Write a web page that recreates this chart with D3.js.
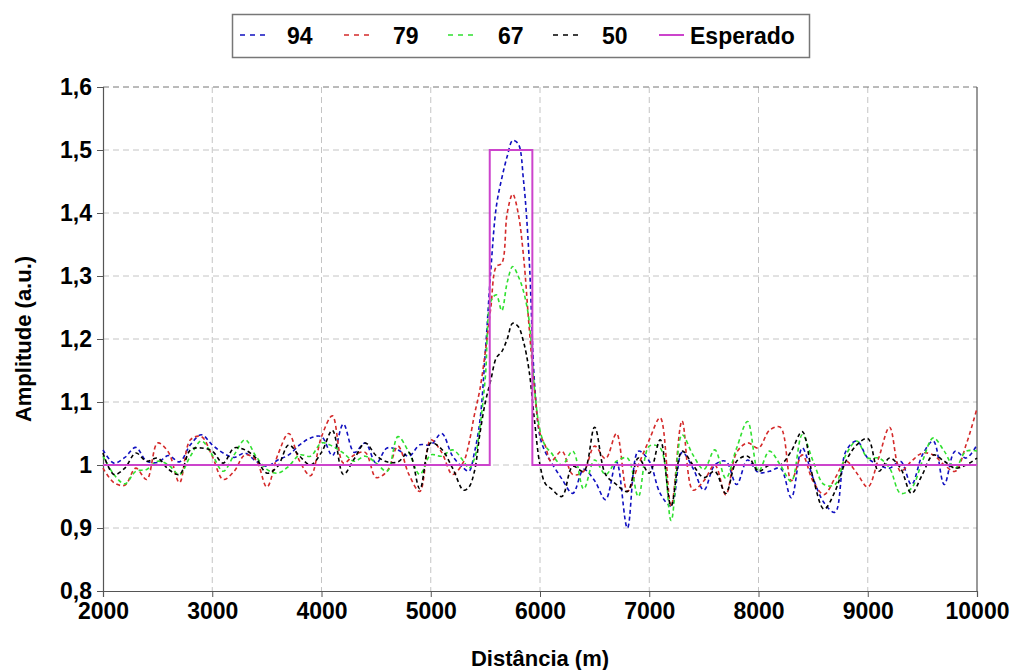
<!DOCTYPE html>
<html>
<head>
<meta charset="utf-8">
<script src="https://cdn.jsdelivr.net/npm/d3@7"></script>
<style>
  body { margin: 0; background: #ffffff; }
  text { font-family: "Liberation Sans", Arial, sans-serif; font-weight: bold; }
</style>
</head>
<body>
<svg id="chart" width="1011" height="670"></svg>
<script>

// distance samples (m), finer around the peak
const dist = [2000,2100,2200,2300,2400,2500,2600,2700,2800,2900,
              3000,3100,3200,3300,3400,3500,3600,3700,3800,3900,
              4000,4100,4200,4300,4400,4500,4600,4700,4800,4900,
              5000,5100,5200,5300,
              5350,5400,5450,5500,5550,5600,5650,5700,5750,5800,5850,5900,5950,6000,6050,6100,
              6200,6300,6400,6500,6600,6700,6800,6900,7000,7100,
              7200,7300,7400,7500,7600,7700,7800,7900,8000,8100,
              8200,8300,8400,8500,8600,8700,8800,8900,9000,9100,
              9200,9300,9400,9500,9600,9700,9800,9900,10000];

const s94 = [1.024,1.003,1.012,1.028,1.006,1.004,1.015,1.005,1.032,1.048,
             1.032,1.019,1.012,1.019,1.006,0.998,1.008,1.016,1.032,1.043,
             1.045,1.015,1.065,1.020,1.035,1.003,1.027,1.024,1.014,1.032,
             1.032,1.050,1.014,0.995,
             0.990,1.020,1.070,1.180,1.310,1.410,1.455,1.490,1.515,1.510,1.450,1.330,1.130,1.045,1.020,1.005,
             0.978,0.955,0.993,0.975,0.945,1.005,0.900,1.022,1.006,0.955,
             0.935,1.020,0.995,0.960,1.000,1.006,0.969,1.008,0.988,0.990,
             0.995,0.948,1.027,0.979,0.940,0.925,1.022,1.038,1.011,1.000,
             0.995,1.006,0.969,1.016,1.038,0.969,1.022,1.011,1.032];

const s79 = [0.995,0.972,0.968,0.995,0.977,1.035,1.020,0.972,1.040,1.045,
             1.014,0.977,0.990,1.016,1.008,0.965,1.016,1.050,1.006,0.983,
             1.045,1.078,1.003,1.016,1.020,0.980,0.990,1.030,0.985,0.958,
             1.040,1.020,0.985,1.005,
             1.035,1.080,1.120,1.180,1.250,1.315,1.320,1.400,1.430,1.400,1.330,1.220,1.120,1.050,1.030,1.006,
             1.022,0.985,0.990,1.030,1.010,1.050,0.958,1.000,1.040,1.075,
             0.935,1.070,0.960,0.975,1.000,0.953,1.020,1.035,1.027,1.055,
             1.060,0.975,1.016,0.974,0.953,0.979,1.006,0.987,0.965,1.011,
             1.060,0.990,1.006,1.019,1.016,1.000,0.990,1.032,1.090];

const s67 = [1.014,0.985,0.970,0.990,0.993,1.006,1.000,0.985,1.014,1.038,
             1.016,0.990,1.016,1.040,1.014,0.993,0.987,0.998,1.016,1.014,
             1.035,1.030,1.019,1.006,1.014,1.003,0.990,1.045,1.020,0.985,
             1.016,1.014,1.024,1.006,
             0.995,1.010,1.060,1.140,1.260,1.270,1.245,1.290,1.315,1.300,1.275,1.230,1.120,1.055,1.030,1.020,
             1.000,1.022,0.962,1.008,0.985,1.006,1.011,0.950,1.030,1.027,
             0.912,1.048,1.016,0.993,1.024,0.979,1.027,1.069,0.990,1.022,
             1.000,0.974,1.048,1.006,0.969,0.969,1.016,1.038,1.011,1.011,
             0.995,0.955,0.963,1.006,1.043,1.022,0.995,1.022,1.022];

const s50 = [1.019,0.985,0.995,1.019,1.006,1.011,0.993,0.985,1.024,1.027,
             1.022,1.003,1.027,1.024,1.011,0.987,0.998,1.032,1.014,1.000,
             1.020,1.055,0.985,1.010,1.035,1.015,1.005,1.005,1.020,0.962,
             1.035,1.025,0.995,0.960,
             0.965,0.990,1.050,1.100,1.135,1.170,1.180,1.200,1.225,1.220,1.195,1.150,1.070,1.000,0.970,0.963,
             0.950,0.998,0.990,1.060,0.985,0.969,0.958,1.011,0.987,1.040,
             0.935,1.022,1.000,0.980,0.990,0.955,1.006,1.014,0.990,1.000,
             1.000,1.022,1.053,0.979,0.930,0.958,1.006,1.032,1.042,0.990,
             1.011,0.995,0.955,0.985,1.016,1.006,0.995,1.000,1.011];

// expected (ideal) response
const espDist = [2000, 5540, 5540, 5930, 5930, 10000];
const espVal  = [1, 1, 1.5, 1.5, 1, 1];

const xTicks = [2000,3000,4000,5000,6000,7000,8000,9000,10000];
const yTicks = [0.8,0.9,1.0,1.1,1.2,1.3,1.4,1.5,1.6];

const seriesNames  = ["94", "79", "67", "50"];
const seriesValues = [s94, s79, s67, s50];
const seriesColors = ["#1010c0", "#d42a2a", "#30e030", "#000000"];
const espColor = "#cc44cc";


/* - - - - - - - - - - - - - - - - - - - - - - - - - -
 * Chart
 * - - - - - - - - - - - - - - - - - - - - - - - - - -
 */

let svg = d3.select("#chart");

let mLeft = 103, mRight = 977, mTop = 87, mBottom = 591;

let x = d3.scaleLinear().domain([2000, 10000]).range([mLeft, mRight]);
let y = d3.scaleLinear().domain([0.8, 1.6]).range([mBottom, mTop]);

svg.append("rect")
   .attr("width", 1011)
   .attr("height", 670)
   .attr("fill", "#ffffff");

// grid
svg.append("g")
   .selectAll("line")
   .data(xTicks.slice(1, -1))
   .enter()
   .append("line")
   .attr("x1", function(d){return x(d)})
   .attr("x2", function(d){return x(d)})
   .attr("y1", mTop)
   .attr("y2", mBottom)
   .attr("stroke", "#c4c4c4")
   .attr("stroke-width", 1)
   .attr("stroke-dasharray", "6,4");

svg.append("g")
   .selectAll("line")
   .data(yTicks.slice(1))
   .enter()
   .append("line")
   .attr("x1", mLeft)
   .attr("x2", mRight)
   .attr("y1", function(d){return y(d)})
   .attr("y2", function(d){return y(d)})
   .attr("stroke", function(d){return d === 1.6 ? "#777" : "#c4c4c4"})
   .attr("stroke-width", 1)
   .attr("stroke-dasharray", "6,4");

// right border
svg.append("line")
   .attr("x1", mRight).attr("x2", mRight)
   .attr("y1", mTop).attr("y2", mBottom)
   .attr("stroke", "#555")
   .attr("stroke-width", 1.2);

// axes
let fmt = function(d){ return d3.format("~g")(d).replace(".", ","); };

let yAxis = svg.append("g")
   .attr("transform", "translate(" + mLeft + ",0)")
   .call(d3.axisLeft(y).tickValues(yTicks).tickFormat(fmt).tickSize(6).tickPadding(5));

let xAxis = svg.append("g")
   .attr("transform", "translate(0," + mBottom + ")")
   .call(d3.axisBottom(x).tickValues(xTicks).tickFormat(d3.format("d")).tickSize(6).tickPadding(6));

[yAxis, xAxis].forEach(function(a){
    a.select(".domain").attr("stroke", "#555").attr("stroke-width", 1.2);
    a.selectAll(".tick line").attr("stroke", "#555");
    a.selectAll(".tick text")
     .attr("fill", "#000")
     .style("font-size", "23px")
     .style("font-family", "'Liberation Sans', Arial, sans-serif")
     .style("font-weight", "bold");
});

// axis titles
svg.append("text")
   .attr("x", (mLeft + mRight) / 2)
   .attr("y", 666)
   .attr("text-anchor", "middle")
   .style("font-size", "22px")
   .text("Distância (m)");

svg.append("text")
   .attr("transform", "translate(31,339) rotate(-90)")
   .attr("text-anchor", "middle")
   .style("font-size", "22px")
   .text("Amplitude (a.u.)");

// data lines
let line = d3.line()
   .x(function(d){return x(d[0])})
   .y(function(d){return y(d[1])})
   .curve(d3.curveCatmullRom.alpha(0.5));

let plot = svg.append("g");

seriesValues.forEach(function(vals, i){
    plot.append("path")
        .datum(dist.map(function(d, j){return [d, vals[j]]}))
        .attr("d", line)
        .attr("fill", "none")
        .attr("stroke", seriesColors[i])
        .attr("stroke-width", 1.6)
        .attr("stroke-dasharray", "4,3");
});

plot.append("path")
    .datum(espDist.map(function(d, j){return [d, espVal[j]]}))
    .attr("d", d3.line().x(function(d){return x(d[0])}).y(function(d){return y(d[1])}))
    .attr("fill", "none")
    .attr("stroke", espColor)
    .attr("stroke-width", 2);

// legend
let legend = svg.append("g");

legend.append("rect")
      .attr("x", 232.5)
      .attr("y", 14.5)
      .attr("width", 577)
      .attr("height", 43)
      .attr("fill", "#fff")
      .attr("stroke", "#777")
      .attr("stroke-width", 1.5);

let legItems = [
    {name: "94", color: seriesColors[0], dash: "5,5", lx: 240, tx: 287},
    {name: "79", color: seriesColors[1], dash: "5,5", lx: 344, tx: 393},
    {name: "67", color: seriesColors[2], dash: "5,5", lx: 448, tx: 498},
    {name: "50", color: seriesColors[3], dash: "5,5", lx: 553, tx: 602},
    {name: "Esperado", color: espColor, dash: null, lx: 659, tx: 690}
];

legItems.forEach(function(it){
    legend.append("line")
          .attr("x1", it.lx)
          .attr("x2", it.lx + 25)
          .attr("y1", 35)
          .attr("y2", 35)
          .attr("stroke", it.color)
          .attr("stroke-width", it.dash ? 1.5 : 2)
          .attr("stroke-dasharray", it.dash);
    legend.append("text")
          .attr("x", it.tx)
          .attr("y", 44)
          .style("font-size", "23px")
          .text(it.name);
});

</script>
</body>
</html>
